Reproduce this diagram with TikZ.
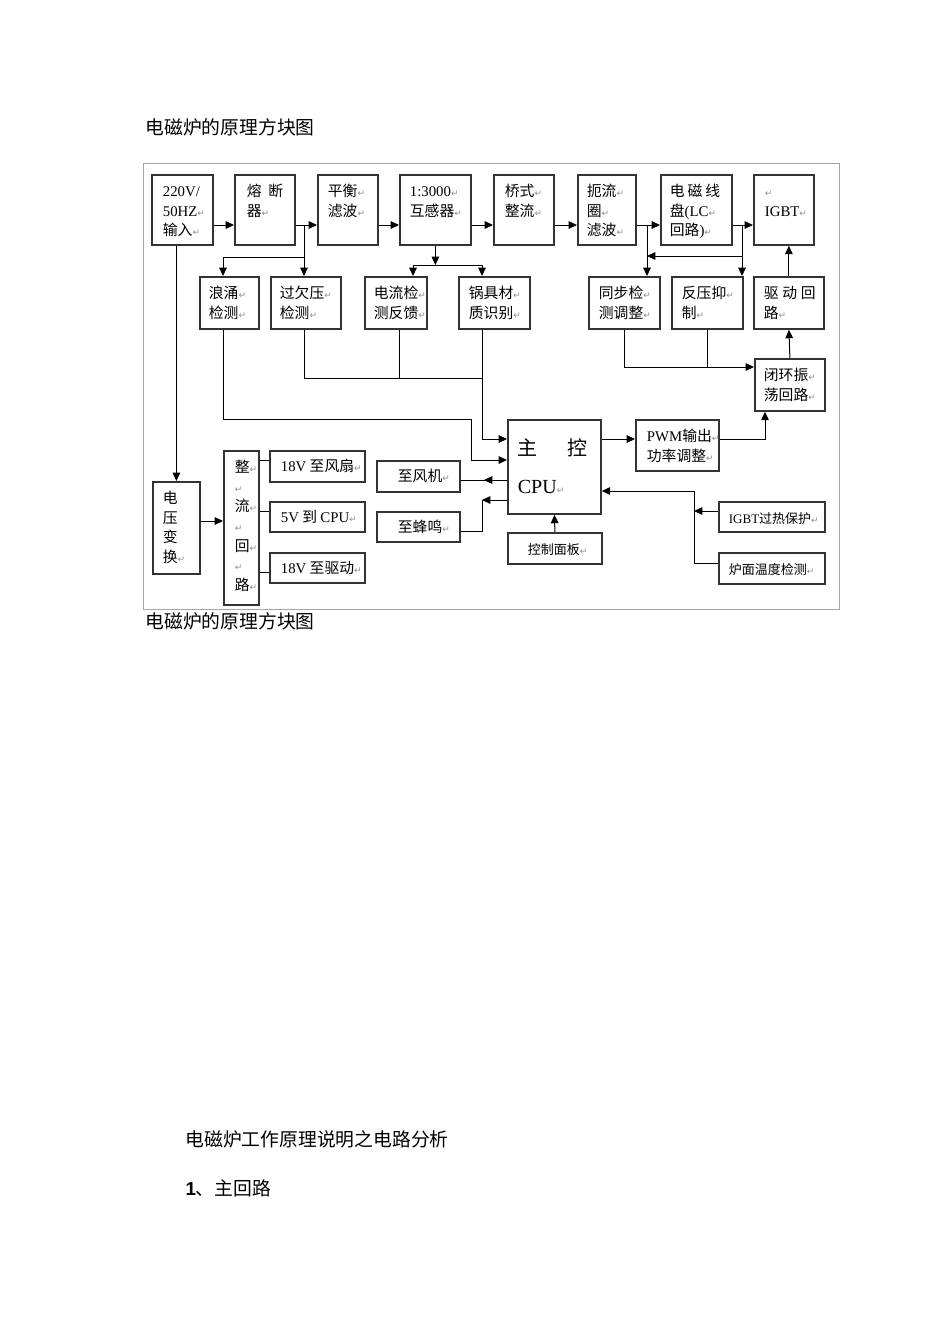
\documentclass[tikz,border=0pt]{standalone}
\usepackage{fontspec}
\setmainfont{Noto Sans CJK SC}
\newfontfamily\tm{Liberation Serif}
\newfontfamily\symf{DejaVu Sans}
\newfontfamily\arl{Liberation Sans}
\usetikzlibrary{arrows.meta,decorations.markings}
\newdimen\pxu \pxu=0.5pt
% return mark and top-aligned box text
\newcommand\rt{{\symf\fontsize{4.5}{4.5}\selectfont\textcolor{black!45}{↵}}}
\newcommand\bt[5][8]{\parbox[t][#3\pxu][t]{#2\pxu}{\vspace*{#1\pxu}\raggedright\leftskip=#4\pxu\strut#5}}
\newcommand\bxf{\fontsize{7.4}{9.8}\selectfont}
\newcommand\smf{\fontsize{6.5}{9.8}\selectfont}
\newcommand\cpuf{\fontsize{10}{19}\selectfont}
\newcommand\capf{\fontsize{9.4}{11}\selectfont}

\begin{document}
\begin{tikzpicture}[x=0.5pt,y=-0.5pt,line width=0.5pt,>={Triangle[length=4.2pt,width=3.8pt]}]
\tikzset{blk/.style={draw=black!80,line width=0.9pt,anchor=north west,inner sep=0pt,font=\bxf},
  midarr/.style={postaction={decorate},decoration={markings,mark=at position 0.5 with {\arrow{>}}}},
  captxt/.style={anchor=west,inner sep=0pt,font=\capf}}
\useasboundingbox (0,0) rectangle (950,1344);
% ================= captions =================
\node[captxt] (cap1) at (145,127) {电磁炉的原理方块图};
\node[captxt] (cap2) at (145,621) {电磁炉的原理方块图};
\node[captxt] (sect) at (185,1139) {电磁炉工作原理说明之电路分析};
\node[captxt] (item) at (185,1188) {{\arl\bfseries 1}、主回路};
\draw[black!35,line width=0.5pt] (143,163) rectangle (839,609);
% ================= top row =================
\node[blk] (mains) at (151,174) {\bt{61}{70}{11}{{\tm 220V/}\\{\tm 50HZ}\rt\\输入\rt}};
\node[blk] (fuse) at (234,174) {\bt{60}{70}{12}{熔\hspace{0.45em}断\\器\rt}};
\node[blk] (balfilt) at (317,174) {\bt{60}{70}{10}{平衡\rt\\滤波\rt}};
\node[blk] (ct) at (399,174) {\bt{71}{70}{10}{{\tm 1:3000}\rt\\互感器\rt}};
\node[blk] (bridge) at (493,174) {\bt{60}{70}{11}{桥式\rt\\整流\rt}};
\node[blk] (choke) at (577,174) {\bt{58}{70}{9}{扼流\rt\\圈\rt\\滤波\rt}};
\node[blk] (coil) at (660,174) {\bt{71}{70}{9}{电\hspace{.2em}磁\hspace{.2em}线\\盘{\tm (LC}\rt\\回路{\tm )}\rt}};
\node[blk] (igbt) at (753,174) {\bt{60}{70}{11}{\rt\\{\tm IGBT}\rt}};
% ================= second row =================
\node[blk] (surge) at (199,276) {\bt{59}{52}{9}{浪涌\rt\\检测\rt}};
\node[blk] (ovuv) at (270,276) {\bt{70}{52}{9}{过欠压\rt\\检测\rt}};
\node[blk] (curfb) at (364,276) {\bt{62}{52}{9}{电流检\rt\\测反馈\rt}};
\node[blk] (potid) at (458,276) {\bt{71}{52}{10}{锅具材\rt\\质识别\rt}};
\node[blk] (sync) at (588,276) {\bt{71}{52}{10}{同步检\rt\\测调整\rt}};
\node[blk] (backv) at (671,276) {\bt{71}{52}{10}{反压抑\rt\\制\rt}};
\node[blk] (drive) at (753,276) {\bt{70}{52}{10}{驱\hspace{.25em}动\hspace{.25em}回\\路\rt}};
\node[blk] (osc) at (754,358) {\bt{70}{52}{9}{闭环振\rt\\荡回路\rt}};
% ================= control part =================
\node[blk,font=\cpuf] (cpu) at (507,419) {\bt[9]{93}{94}{10}{主\hspace{30\pxu}控\\{\tm CPU}\rt}};
\node[blk] (pwm) at (635,419) {\bt{83}{51}{11}{{\tm PWM}输出\rt\\功率调整\rt}};
\node[blk] (fan) at (376,460) {\bt[7]{83}{31}{21}{至风机\rt}};
\node[blk] (buzz) at (376,511) {\bt[7]{83}{30}{21}{至蜂鸣\rt}};
\node[blk,font=\smf] (panel) at (507,532) {\bt[8]{94}{31}{20}{控制面板\rt}};
\node[blk,font=\smf] (igbtot) at (718,501) {\bt[8]{106}{30}{10}{{\tm IGBT}过热保护\rt}};
\node[blk,font=\smf] (tempdet) at (718,552) {\bt[8]{106}{31}{10}{炉面温度检测\rt}};
% ================= power supply =================
\node[blk] (vconv) at (152,481) {\bt{47}{92}{10}{电\\压\\变\\换\rt}};
\node[blk] (rect) at (223,450) {\bt{35}{154}{11}{整\rt\\\rt\\流\rt\\\rt\\回\rt\\\rt\\路\rt}};
\node[blk] (fan18) at (269,450) {\bt[7]{95}{31}{11}{{\tm 18V} 至风扇\rt}};
\node[blk] (cpu5) at (269,501) {\bt[7]{95}{30}{11}{{\tm 5V} 到 {\tm CPU}\rt}};
\node[blk] (drv18) at (269,552) {\bt[7]{95}{30}{11}{{\tm 18V} 至驱动\rt}};
% ---------- main chain ----------
\coordinate (bus) at (0,225);
\draw[->] (mains.east |- bus) -- (fuse.west |- bus);
\draw[->] (fuse.east |- bus) -- (balfilt.west |- bus);
\draw[->] (balfilt.east |- bus) -- (ct.west |- bus);
\draw[->] (ct.east |- bus) -- (bridge.west |- bus);
\draw[->] (bridge.east |- bus) -- (choke.west |- bus);
\draw[->] (choke.east |- bus) -- (coil.west |- bus);
\draw[->] (coil.east |- bus) -- (igbt.west |- bus);
% ---------- taps to detectors ----------
\draw[->] (304,225) -- (304,0 |- ovuv.north);
\draw[->] (304,257) -| (223,0 |- surge.north);
\draw[->] (ct.south) -- (ct.south |- 0,265);
\draw[<->] (413,0 |- curfb.north) |- (482,265) -- (482,0 |- potid.north);
\draw[->] (647,225) -- (647,0 |- sync.north);
\draw[->] (742,225) -- (742,0 |- backv.north);
\draw[->] (742,256) -- (647,256);
% ---------- drive loop ----------
\draw[->] (osc.north) -- (drive.south);
\draw[->] (drive.north) -- (drive.north |- igbt.south);
\draw[->] (sync.south) |- (osc.west |- 0,367);
\draw (backv.south) -- (backv.south |- 0,367);
\draw[->] (cpu.east |- 0,439) -- (pwm.west |- 0,439);
\draw[->] (pwm.east |- 0,439) -| (765,0 |- osc.south);
% ---------- detectors to CPU ----------
\draw (304,0 |- ovuv.south) |- (482,378);
\draw (399,0 |- curfb.south) -- (399,378);
\draw[->] (482,0 |- potid.south) |- (cpu.west |- 0,439);
\draw[->] (223,0 |- surge.south) |- (471,419) |- (cpu.west |- 0,460);
% ---------- CPU outputs / inputs ----------
\draw[midarr] (cpu.west |- 0,480) -- (fan.east |- 0,480);
\draw[->] (cpu.west |- 0,500) -- (482,500);
\draw (482,500) |- (buzz.east |- 0,531);
\draw[->] (panel.north) -- (cpu.south);
\draw[->] (tempdet.west |- 0,563) -| (694,491) -- (cpu.east |- 0,491);
\draw[->] (igbtot.west |- 0,511) -- (694,511);
% ---------- power supply ----------
\draw[->] (vconv.north |- mains.south) -- (vconv.north);
\draw[->] (vconv.east |- 0,521) -- (rect.west |- 0,521);
\draw (rect.east |- 0,460) -- (fan18.west |- 0,460);
\draw (rect.east |- 0,511) -- (cpu5.west |- 0,511);
\draw (rect.east |- 0,572) -- (drv18.west |- 0,572);
\end{tikzpicture}
\end{document}
